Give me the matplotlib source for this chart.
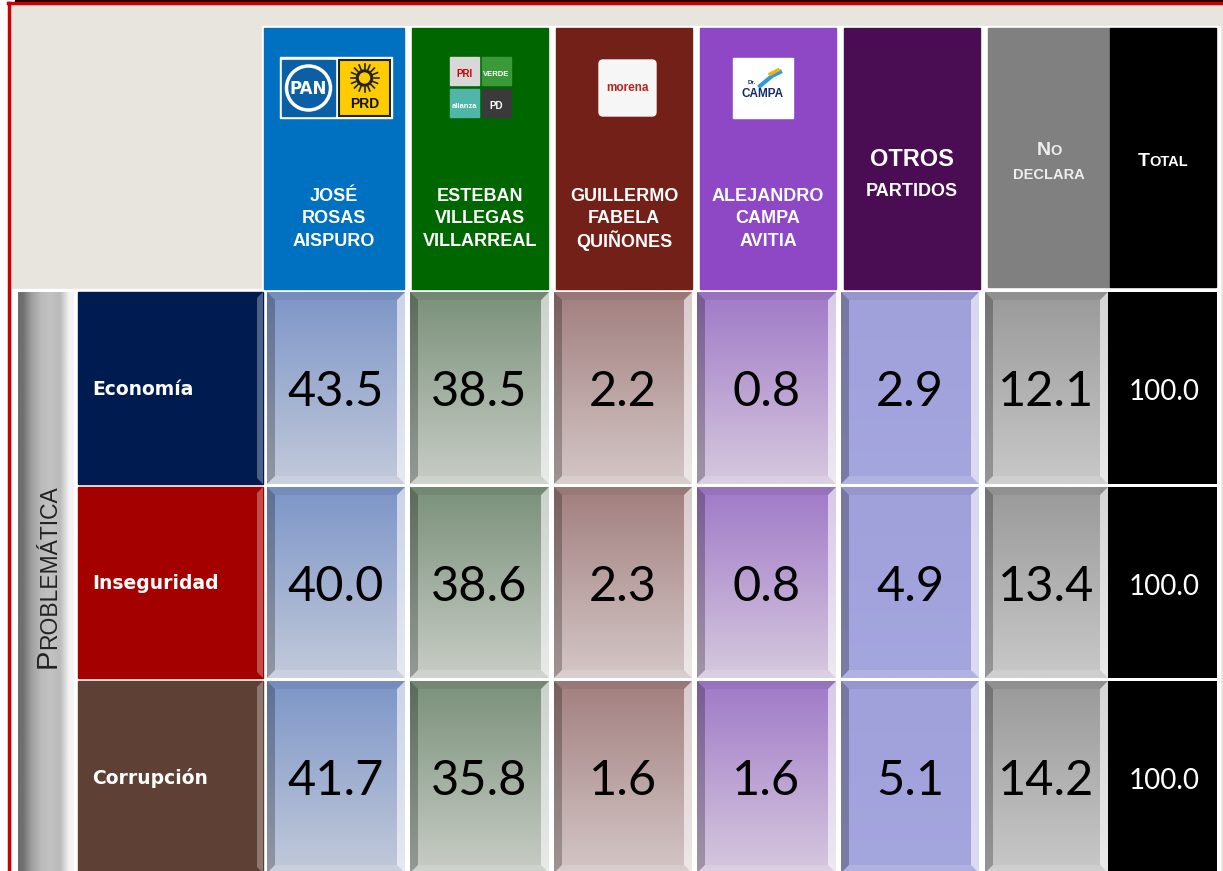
import matplotlib
matplotlib.use('Agg')
import matplotlib.pyplot as plt
import numpy as np
from matplotlib.patches import Rectangle, Polygon, FancyBboxPatch, Circle
from matplotlib.colors import to_rgb

# datos
problemas = ['Economía', 'Inseguridad', 'Corrupción']
pan_prd = [43.5, 40.0, 41.7]
pri_verde = [38.5, 38.6, 35.8]
morena = [2.2, 2.3, 1.6]
campa = [0.8, 0.8, 1.6]
otros = [2.9, 4.9, 5.1]
no_declara = [12.1, 13.4, 14.2]
total = [100.0, 100.0, 100.0]
series = [pan_prd, pri_verde, morena, campa, otros, no_declara, total]

candidatos = [['JOSÉ', 'ROSAS', 'AISPURO'],
              ['ESTEBAN', 'VILLEGAS', 'VILLARREAL'],
              ['GUILLERMO', 'FABELA', 'QUIÑONES'],
              ['ALEJANDRO', 'CAMPA', 'AVITIA']]

# layout (pixels)
W, H = 1223, 871
head_x = [(264, 404), (412, 548), (556, 692), (700, 836), (844, 980), (988, 1110), (1110, 1216)]
head_col = ['#0070C0', '#006600', '#722018', '#8E48C6', '#4A0C52', '#808080', '#000000']
body_x = [(267, 405), (410, 549), (554, 692), (697, 836), (841, 979), (985, 1108), (1108, 1217)]
body_top = ['#7D96C8', '#7A917A', '#A27F7F', '#A07AC8', '#A0A0DA', '#9A9A9A', '#000000']
body_bot = ['#C2C9DA', '#C8CDC6', '#D4C6C6', '#D6C8DE', '#A4A6DE', '#C8C8C8', '#000000']
rows_y = [(292, 484), (487, 678), (681, 873)]
label_col = ['#001B50', '#A50000', '#5E4035']

fig = plt.figure(figsize=(W / 100, H / 100), dpi=100)
ax = fig.add_axes([0, 0, 1, 1])
ax.set_xlim(0, W)
ax.set_ylim(H, 0)
ax.axis('off')

# fondo
ax.add_patch(Rectangle((0, 0), W, H, color='white', zorder=0))
ax.add_patch(Rectangle((9, 3), W, H, color='#E8E4DE', zorder=0))
ax.add_patch(Rectangle((262, 26), 958, H, color='white', zorder=0.5))
ax.add_patch(Rectangle((12, 289), 260, H, color='white', zorder=0.5))
ax.plot([8.5, 8.5], [3, H], color='#CC0000', lw=2.5, zorder=5)
ax.plot([8, W], [3.5, 3.5], color='#CC0000', lw=2.5, zorder=5)
ax.plot([16, W], [0.8, 0.8], color='#300000', lw=1.5, zorder=5)


def grad_v(x0, x1, y0, y1, c0, c1, z=1):
    g = np.linspace(0, 1, 64)[:, None, None]
    img = np.array(to_rgb(c0))[None, None, :] * (1 - g) + np.array(to_rgb(c1))[None, None, :] * g
    ax.imshow(img, extent=(x0, x1, y1, y0), origin='upper', aspect='auto', zorder=z,
              interpolation='bilinear')


def grad_h(x0, x1, y0, y1, cols, z=1):
    img = np.array([to_rgb(c) for c in cols])[None, :, :]
    ax.imshow(img, extent=(x0, x1, y1, y0), origin='upper', aspect='auto', zorder=z,
              interpolation='bilinear')


def bevel(x0, x1, y0, y1, b=8, a=1.0, z=2):
    ax.add_patch(Polygon([(x0, y0), (x0 + b, y0 + b), (x0 + b, y1 - b), (x0, y1)],
                         closed=True, color='black', alpha=0.25 * a, lw=0, zorder=z))
    ax.add_patch(Polygon([(x1, y0), (x1 - b, y0 + b), (x1 - b, y1 - b), (x1, y1)],
                         closed=True, color='white', alpha=0.6 * a, lw=0, zorder=z))
    ax.add_patch(Polygon([(x0, y0), (x1, y0), (x1 - b, y0 + b), (x0 + b, y0 + b)],
                         closed=True, color='black', alpha=0.06 * a, lw=0, zorder=z))
    ax.add_patch(Polygon([(x0, y1), (x1, y1), (x1 - b, y1 - b), (x0 + b, y1 - b)],
                         closed=True, color='white', alpha=0.15 * a, lw=0, zorder=z))


renderer = fig.canvas.get_renderer()


def small_caps(x, y, parts, color, family='Liberation Sans', weight='bold'):
    txts = []
    for s, size in parts:
        t = ax.text(0, y, s, fontsize=size, color=color, family=family, weight=weight,
                    ha='left', va='baseline', zorder=6)
        txts.append(t)
    widths = [t.get_window_extent(renderer).width for t in txts]
    cx = x - sum(widths) / 2
    for t, w in zip(txts, widths):
        t.set_x(cx)
        cx += w


# cabecera
for i, ((x0, x1), c) in enumerate(zip(head_x, head_col)):
    y1 = 289 if i < 5 else 287
    ax.add_patch(Rectangle((x0, 28), x1 - x0, y1 - 28, color=c, zorder=1))

for i, lines in enumerate(candidatos):
    cx = sum(head_x[i]) / 2
    for j, s in enumerate(lines):
        ax.text(cx, 196 + 22.5 * j, s, ha='center', va='center', color='white',
                fontsize=13, weight='bold', family='Liberation Sans', zorder=6)

cx = sum(head_x[4]) / 2
ax.text(cx, 160, 'OTROS', ha='center', va='center', color='white', fontsize=17,
        weight='bold', family='Liberation Sans', zorder=6)
ax.text(cx, 191, 'PARTIDOS', ha='center', va='center', color='white', fontsize=13,
        weight='bold', family='Liberation Sans', zorder=6)
small_caps(sum(head_x[5]) / 2, 155, [('N', 14), ('O', 10.5)], '#EEEEEE')
small_caps(sum(head_x[5]) / 2, 179, [('DECLARA', 10.5)], '#EEEEEE')
small_caps(sum(head_x[6]) / 2, 166, [('T', 14), ('OTAL', 10.5)], 'white')

# logos
ax.add_patch(Rectangle((280, 57), 112, 61, color='white', zorder=3))
ax.add_patch(Rectangle((282, 60), 53, 56, color='#0B5FA5', zorder=4))
ax.add_patch(Circle((308.5, 88), 22, fill=False, ec='white', lw=2.5, zorder=5))
ax.text(308.5, 89, 'PAN', ha='center', va='center', color='white', fontsize=12,
        weight='bold', family='Liberation Sans Narrow', zorder=6)
ax.add_patch(Rectangle((339, 60), 51, 56, fc='#FFCC00', ec='#222222', lw=1.5, zorder=4))
ax.add_patch(Circle((364.5, 78), 8, color='#222222', zorder=5))
ax.add_patch(Circle((364.5, 78), 5, color='#FFCC00', zorder=5))
for ang in np.linspace(0, 2 * np.pi, 16, endpoint=False):
    ax.plot([364.5 + 9 * np.cos(ang), 364.5 + 14 * np.cos(ang)],
            [78 + 9 * np.sin(ang), 78 + 14 * np.sin(ang)], color='#222222', lw=1.2, zorder=5)
ax.text(364.5, 104, 'PRD', ha='center', va='center', color='#111111', fontsize=10,
        weight='bold', family='Liberation Sans', zorder=6)

logos2 = [((450, 57), '#D8D8D8', 'PRI', '#CC0000'), ((482, 57), '#3A9A3A', 'VERDE', 'white'),
          ((450, 89), '#4FB6A8', 'alianza', 'white'), ((482, 89), '#3A3A3A', 'PD', 'white')]
for (lx, ly), fc, s, tc in logos2:
    ax.add_patch(Rectangle((lx, ly), 29, 28, color=fc, zorder=4))
    ax.text(lx + 14.5, ly + 17, s, ha='center', va='center', color=tc,
            fontsize=5.5 if len(s) > 3 else 7, weight='bold', family='Liberation Sans', zorder=6)

ax.add_patch(FancyBboxPatch((599, 60), 57, 56, boxstyle='round,pad=0,rounding_size=4',
                            color='#F6F6F6', zorder=4))
ax.text(627.5, 88, 'morena', ha='center', va='center', color='#B5261E', fontsize=8.5,
        weight='bold', family='Liberation Sans', zorder=6)

ax.add_patch(Rectangle((733, 58), 60, 60, color='white', zorder=4))
ax.text(763, 94, 'CAMPA', ha='center', va='center', color='#152C6A', fontsize=8.5,
        weight='bold', family='Liberation Sans', zorder=6)
ax.text(752, 82, 'Dr.', ha='center', va='center', color='#152C6A', fontsize=4.5,
        weight='bold', family='Liberation Sans', zorder=6)
ax.plot([760, 772, 780], [86, 76, 72], color='#2E9BD6', lw=3, zorder=5)
ax.plot([770, 778], [74, 70], color='#F2B317', lw=2.5, zorder=5)

# barra lateral
y_top, y_bot = rows_y[0][0], H + 2
grad_h(18, 74, y_top, y_bot, ['#6E6E6E', '#A0A0A0', '#BABABA', '#C2C2C2', '#BBBBBB', '#F4F4F4'])
ax.text(56, 668, 'P', rotation=90, rotation_mode='anchor', ha='left', va='baseline',
        fontsize=21, color='#222222', family='Liberation Sans', zorder=6)
t_p = ax.texts[-1]
hp = t_p.get_window_extent(renderer).height
ax.text(56, 668 - hp, 'ROBLEMÁTICA', rotation=90, rotation_mode='anchor', ha='left',
        va='baseline', fontsize=16.5, color='#222222', family='Liberation Sans', zorder=6)

# cuerpo
for r, (prob, (y0, y1)) in enumerate(zip(problemas, rows_y)):
    ax.add_patch(Rectangle((78, y0), 185, y1 - y0, color=label_col[r], zorder=1))
    # brillo lateral derecho
    ax.add_patch(Polygon([(263, y0), (257, y0 + 6), (257, y1 - 6), (263, y1)],
                         closed=True, color='white', alpha=0.3, lw=0, zorder=2))
    ax.text(92, (y0 + y1) / 2 + 1, prob, ha='left', va='center', color='white', fontsize=13.5,
            weight='semibold', family='DejaVu Sans', zorder=6)
    for c, vals in enumerate(series):
        x0, x1 = body_x[c]
        grad_v(x0, x1, y0, y1, body_top[c], body_bot[c])
        if c < 6:
            bevel(x0, x1, y0, y1, b=8)
            ax.text((x0 + x1) / 2, (y0 + y1) / 2 + 4, f'{vals[r]:.1f}', ha='center',
                    va='center', color='black', fontsize=35, family='Lato', zorder=6)
        else:
            ax.text((x0 + x1) / 2 + 2, (y0 + y1) / 2 + 4, f'{vals[r]:.1f}', ha='center',
                    va='center', color='white', fontsize=20, family='Lato', zorder=6)

fig.savefig('out.png', dpi=100)
